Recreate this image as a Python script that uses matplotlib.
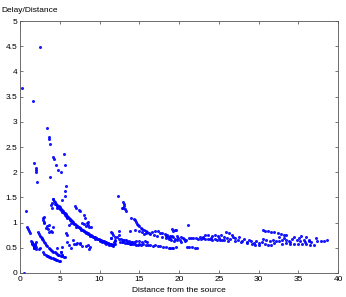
import matplotlib
matplotlib.use('Agg')
import matplotlib.pyplot as plt

plt.rcParams['font.family'] = ['Liberation Sans', 'DejaVu Sans']

# ---- data ----
# outliers far above the bulk
peak_x = [0.25, 1.58, 2.46, 3.38, 3.65, 3.68, 3.80]
peak_y = [3.67, 3.42, 4.48, 2.88, 2.70, 2.66, 2.56]

# scattered high values near the source
high_x = [1.80, 1.95, 2.00, 2.05, 2.15, 3.75, 4.20, 4.25, 4.58, 4.83, 5.15, 5.55,
          5.63, 5.75, 4.10, 5.25, 5.60, 5.70]
high_y = [2.19, 2.08, 2.04, 2.00, 1.81, 1.90, 2.30, 2.27, 2.14, 2.04, 2.01, 2.36,
          2.14, 1.73, 1.47, 1.45, 1.62, 1.52]

# close to the source (x < 6)
near_x = [0.54, 0.79, 0.90, 1.00, 1.10, 1.20,
          1.35, 1.45, 1.50, 1.55, 1.60, 1.65, 1.70, 1.75, 1.80, 1.85, 1.90, 1.95,
          2.00, 1.72, 2.05,
          2.30, 2.40, 2.50, 2.60, 2.70, 2.80, 2.90,
          2.85, 2.90, 3.00, 3.05, 2.95,
          3.20, 3.40, 3.55, 3.70, 3.85, 4.00, 4.10, 3.60,
          3.90, 4.00, 4.05,
          3.00, 3.15, 3.30, 3.45, 3.60, 3.75, 3.90, 4.05, 4.20, 4.35, 4.50, 4.65,
          4.80, 4.95, 5.10, 5.30, 5.50, 5.70,
          2.90, 3.05, 3.20, 3.35, 3.50, 3.65, 3.80, 3.95, 4.10, 4.25, 4.40, 4.55,
          4.70, 4.85, 5.00,
          2.35, 2.45, 4.60, 5.25, 5.10, 5.30]
near_y = [0.00, 1.22, 0.92, 0.88, 0.84, 0.80,
          0.63, 0.62, 0.60, 0.58, 0.55, 0.57, 0.54, 0.52, 0.50, 0.55, 0.58, 0.62,
          0.52, 0.49, 0.48,
          0.82, 0.78, 0.74, 0.71, 0.69, 0.67, 0.65,
          1.05, 1.10, 1.12, 1.00, 1.02,
          0.90, 0.93, 0.88, 0.95, 0.84, 0.81, 0.92, 0.82,
          1.35, 1.29, 1.38,
          0.62, 0.59, 0.56, 0.53, 0.50, 0.48, 0.46, 0.44, 0.42, 0.41, 0.39, 0.38,
          0.36, 0.35, 0.34, 0.33, 0.32, 0.31,
          0.41, 0.38, 0.36, 0.34, 0.33, 0.32, 0.31, 0.30, 0.29, 0.28, 0.27, 0.26,
          0.25, 0.24, 0.23,
          0.47, 0.50, 0.49, 0.52, 0.41, 0.36]

# main decaying curve, 4 to 12
main_x = [4.20, 4.30, 4.40, 4.45, 4.55, 4.60, 4.70, 4.75, 4.85, 4.90, 5.00, 5.05,
          5.15, 5.20, 5.30, 5.35, 5.45, 5.50, 5.60, 5.65, 5.75, 5.80, 5.90, 5.95,
          6.05, 6.15, 6.25, 6.30, 6.40, 6.50, 6.60, 6.70, 6.80, 6.90, 7.00, 7.10,
          7.20, 7.30, 7.40, 7.50, 7.60, 7.70, 7.80, 7.90, 8.00, 8.10, 8.20, 8.30,
          8.40, 8.50, 8.60, 8.70, 8.80, 8.90, 9.00, 9.10, 9.20, 9.30, 9.40, 9.50,
          9.60, 9.70, 9.80, 9.90, 10.00, 10.10, 10.20, 10.30, 10.40, 10.50, 10.60,
          10.70, 10.80, 10.90, 11.00, 11.10, 11.20, 11.30, 11.40, 11.50, 11.60,
          11.70, 11.80, 11.90,
          4.65, 5.25, 5.85, 6.45, 7.05, 7.65, 8.25, 8.85, 9.45, 10.05, 10.65,
          11.25, 11.65, 11.45, 10.85, 10.35]
main_y = [1.46, 1.42, 1.40, 1.36, 1.37, 1.33, 1.35, 1.31, 1.32, 1.28, 1.30, 1.26,
          1.27, 1.24, 1.25, 1.21, 1.22, 1.19, 1.19, 1.16, 1.17, 1.14, 1.14, 1.11,
          1.11, 1.09, 1.07, 1.05, 1.05, 1.03, 1.01, 1.00, 0.98, 0.97, 0.96, 0.94,
          0.93, 0.92, 0.91, 0.89, 0.89, 0.87, 0.86, 0.85, 0.84, 0.83, 0.82, 0.81,
          0.80, 0.79, 0.78, 0.77, 0.76, 0.75, 0.74, 0.73, 0.72, 0.72, 0.71, 0.70,
          0.69, 0.68, 0.68, 0.67, 0.66, 0.66, 0.65, 0.64, 0.63, 0.63, 0.62,
          0.62, 0.61, 0.60, 0.60, 0.59, 0.58, 0.58, 0.57, 0.57, 0.56,
          0.56, 0.57, 0.58,
          1.29, 1.20, 1.10, 1.00, 0.92, 0.86, 0.79, 0.73, 0.68, 0.64, 0.60,
          0.56, 0.54, 0.55, 0.58, 0.61]

# scatter around the main curve
side_x = [5.96, 6.20, 5.75, 6.90, 7.05, 7.40, 7.50, 8.00, 8.20, 7.80, 8.10, 8.40,
          8.60, 8.30, 8.70, 8.90, 8.50,
          5.96, 6.10, 6.40, 6.60, 6.80, 7.00, 7.20, 7.50, 7.60, 7.80, 8.25, 8.50,
          8.67, 8.80, 5.10, 5.30,
          11.60, 11.65, 11.40, 11.50, 11.90, 11.80, 12.00]
side_y = [0.75, 0.95, 0.79, 1.33, 1.29, 1.25, 1.23, 1.15, 1.09, 1.00, 0.98, 0.99,
          1.01, 0.93, 0.92, 0.91, 0.95,
          0.62, 0.55, 0.49, 0.65, 0.57, 0.58, 0.59, 0.58, 0.60, 0.53, 0.54, 0.56,
          0.47, 0.52, 0.41, 0.36,
          0.79, 0.75, 0.82, 0.70, 0.66, 0.62, 0.64]

# middle distances, 12 to 20
mid_x = [12.30, 12.95, 13.05, 13.10, 12.80, 13.00, 13.20, 13.30, 13.90, 14.30,
         14.45, 14.60, 14.70, 14.85, 15.00, 15.20, 15.40, 15.60, 15.80, 16.00,
         16.20, 16.40, 13.80, 14.50, 14.90, 15.30, 15.60, 15.90, 16.60, 17.00,
         17.30, 17.60, 17.90, 18.20, 18.50, 18.80, 19.10, 19.50, 16.80, 17.20,
         17.80, 18.30, 18.70,
         12.50, 12.70, 12.90, 13.10, 13.30, 13.50, 13.70, 13.90, 14.10, 14.30,
         12.60, 12.80, 13.00, 13.20, 13.40, 13.60, 13.80, 14.00, 14.20, 14.40,
         14.60, 14.80, 15.00, 15.20, 15.50, 15.80, 16.10, 16.40, 16.70, 17.00,
         17.30, 17.60, 18.00, 18.40, 18.80, 19.20, 19.60, 14.60, 14.90, 15.30,
         15.70, 16.00, 11.45, 11.95, 12.20, 12.45, 12.50]
mid_y = [1.53, 1.40, 1.37, 1.33, 1.29, 1.28, 1.26, 1.22, 1.09, 1.07,
         1.05, 1.01, 0.98, 0.95, 0.93, 0.90, 0.88, 0.86, 0.84, 0.82,
         0.80, 0.78, 0.83, 0.86, 0.84, 0.81, 0.78, 0.80, 0.82, 0.84,
         0.83, 0.80, 0.79, 0.77, 0.76, 0.74, 0.87, 0.85, 0.76, 0.74,
         0.72, 0.70, 0.68,
         0.68, 0.67, 0.66, 0.66, 0.65, 0.64, 0.63, 0.62, 0.62, 0.61,
         0.62, 0.61, 0.61, 0.60, 0.59, 0.59, 0.58, 0.58, 0.57, 0.57,
         0.56, 0.56, 0.57, 0.56, 0.57, 0.56, 0.55, 0.55, 0.54, 0.55,
         0.54, 0.53, 0.52, 0.51, 0.50, 0.49, 0.52, 0.63, 0.64, 0.62,
         0.63, 0.61, 0.69, 0.71, 0.72, 0.84, 0.76]

# far from the source, 18 to 39
far_x = [21.10, 19.20, 19.60,
         18.40, 18.60, 18.90, 19.10, 19.30, 19.50, 19.70, 19.90, 20.10, 20.30,
         20.50, 20.70, 19.00, 19.40, 19.80, 20.20, 20.60, 20.90,
         18.70, 19.10, 21.00, 21.30, 21.60, 22.00, 22.20,
         21.20, 21.50, 21.80, 22.10, 22.40, 22.70, 23.00, 23.30, 23.60, 23.90,
         24.20, 24.50, 24.80, 25.10, 25.40, 25.70, 23.30, 23.70, 24.10, 24.50,
         24.90, 25.30, 25.60, 22.60, 23.00, 24.00, 25.00,
         25.90, 26.30, 26.60, 26.00, 26.40, 26.80, 27.10, 27.40, 27.60, 27.90,
         28.20, 28.50, 28.80, 29.10, 29.40, 29.70, 30.00, 26.20, 27.00, 27.80,
         28.60, 29.20, 29.60, 30.10,
         30.50, 30.80, 31.20, 31.60, 32.00, 32.40, 32.80, 33.20, 33.50, 30.40,
         30.80, 31.20, 31.60, 32.00, 30.60, 31.00, 31.40, 31.80, 32.20, 32.60,
         33.00, 33.40, 33.80,
         34.20, 34.50, 34.80, 35.10, 35.40, 35.70, 36.00, 36.30, 36.60, 33.00,
         33.50, 34.00, 34.50, 35.00, 35.50, 36.00, 36.50, 37.00, 32.60, 33.20,
         34.00, 35.20, 35.80, 36.40,
         37.20, 37.35, 37.80, 38.20, 38.60]
far_y = [0.95, 0.84, 0.86,
         0.74, 0.72, 0.70, 0.74, 0.71, 0.68, 0.73, 0.69, 0.66, 0.72,
         0.70, 0.64, 0.65, 0.63, 0.66, 0.62, 0.68, 0.66,
         0.49, 0.50, 0.52, 0.51, 0.51, 0.50, 0.50,
         0.70, 0.69, 0.70, 0.69, 0.68, 0.68, 0.69, 0.67, 0.68, 0.67,
         0.66, 0.67, 0.66, 0.65, 0.66, 0.65, 0.75, 0.76, 0.74, 0.75,
         0.73, 0.76, 0.72, 0.72, 0.71, 0.70, 0.69,
         0.82, 0.80, 0.75, 0.70, 0.68, 0.72, 0.70, 0.66, 0.72, 0.64,
         0.68, 0.62, 0.66, 0.63, 0.60, 0.64, 0.59, 0.64, 0.63, 0.62,
         0.59, 0.57, 0.55, 0.56,
         0.85, 0.84, 0.83, 0.82, 0.81, 0.79, 0.77, 0.76, 0.75, 0.62,
         0.58, 0.55, 0.56, 0.59, 0.68, 0.66, 0.64, 0.66, 0.64, 0.63,
         0.65, 0.66, 0.64,
         0.68, 0.72, 0.66, 0.70, 0.73, 0.66, 0.71, 0.64, 0.62, 0.58,
         0.59, 0.58, 0.57, 0.58, 0.57, 0.58, 0.56, 0.56, 0.71, 0.70,
         0.62, 0.63, 0.61, 0.66,
         0.70, 0.63, 0.63, 0.64, 0.65]

x_ticks = [0, 5, 10, 15, 20, 25, 30, 35, 40]
y_ticks = [0, 0.5, 1, 1.5, 2, 2.5, 3, 3.5, 4, 4.5, 5]

fig = plt.figure(figsize=(3.46, 2.97), dpi=100)
ax = fig.add_axes([0.058, 0.081, 0.919, 0.848])

groups = [(peak_x, peak_y), (high_x, high_y), (near_x, near_y),
          (main_x, main_y), (side_x, side_y), (mid_x, mid_y), (far_x, far_y)]
for gx, gy in groups:
    ax.plot(gx, gy, 'o', color='#0000ff', markersize=2.2, markeredgewidth=0,
            alpha=0.9)

ax.set_xlim(0, 40)
ax.set_ylim(0, 5)
ax.set_xticks(x_ticks)
ax.set_yticks(y_ticks)
ax.set_yticklabels(['0', '0.5', '1', '1.5', '2', '2.5', '3', '3.5', '4', '4.5', '5'])
ax.tick_params(direction='in', length=2.5, width=0.5, labelsize=6,
               top=True, right=True, pad=2, color='#444444')
for s in ax.spines.values():
    s.set_linewidth(0.6)
    s.set_color('#555555')

ax.set_xlabel('Distance from the source', fontsize=6, labelpad=3)
fig.text(0.005, 0.975, 'Delay/Distance', fontsize=6, ha='left', va='top')

fig.savefig('out.png', dpi=100)
